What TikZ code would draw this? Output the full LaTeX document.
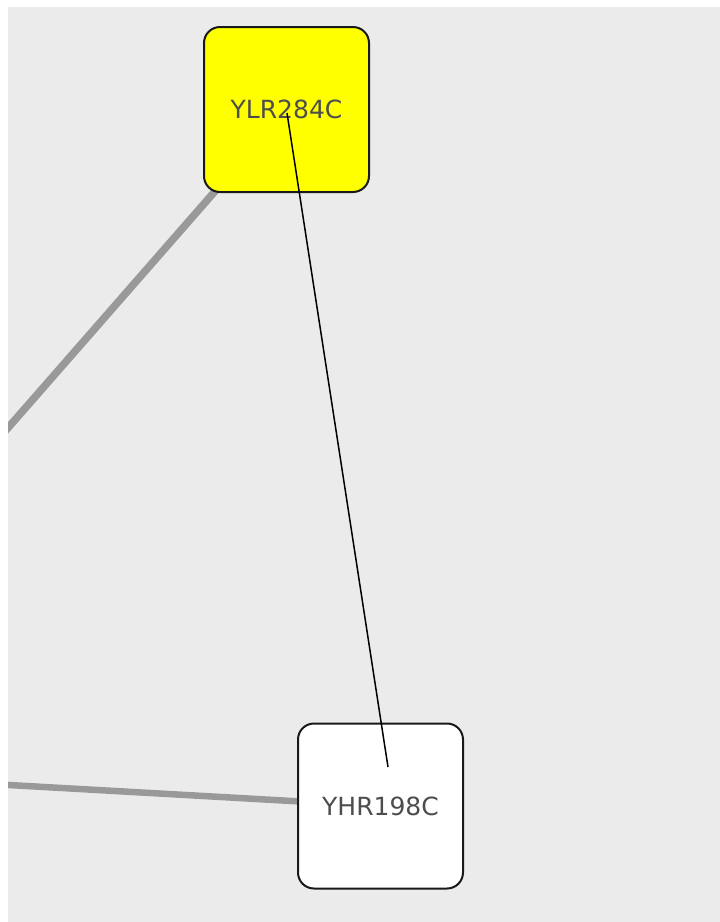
\documentclass[tikz,border=0pt]{standalone}
\usepackage{fontspec}
\setmainfont{DejaVu Sans}
\definecolor{bggray}{HTML}{EBEBEB}
\definecolor{edgegray}{HTML}{999999}
\definecolor{labelgray}{HTML}{4D4D4D}
\definecolor{nodeyellow}{HTML}{FFFF00}
\pgfdeclarelayer{bglayer}
\pgfdeclarelayer{edgelayer}
\pgfdeclarelayer{frontlayer}
\pgfsetlayers{bglayer,edgelayer,main,frontlayer}
\tikzset{
  gene/.style={draw=black!90, line width=2pt, rectangle, rounded corners=16pt,
    minimum width=165pt, minimum height=165pt, inner sep=0pt,
    font=\fontsize{25}{25}\selectfont, text=labelgray},
  grayedge/.style={draw=edgegray, line width=7.5pt},
  blackedge/.style={draw=black, line width=1.5pt}
}
\begin{document}
\begin{tikzpicture}[x=1pt,y=-1pt]
\useasboundingbox (0,0) rectangle (720,922);
\begin{pgfonlayer}{bglayer}
  \fill[bggray] (8,7) rectangle (720,922);
\end{pgfonlayer}
\node[gene, fill=nodeyellow] (ylr) at (286.5,109.5) {YLR284C};
\node[gene, fill=white] (yhr) at (380.5,806) {YHR198C};
\coordinate (offA) at (0,437);
\coordinate (offB) at (0,784.5);
\coordinate (pA) at (287,113);
\coordinate (pB) at (388,767);
\begin{pgfonlayer}{edgelayer}
  \begin{scope}
    \clip (8,7) rectangle (720,922);
    \draw[grayedge] (offA) -- (ylr.center);
    \draw[grayedge, line width=6.5pt] (offB) -- (yhr.center);
  \end{scope}
\end{pgfonlayer}
\begin{pgfonlayer}{frontlayer}
  \draw[blackedge] (pA) -- (pB);
\end{pgfonlayer}
\end{tikzpicture}
\end{document}
